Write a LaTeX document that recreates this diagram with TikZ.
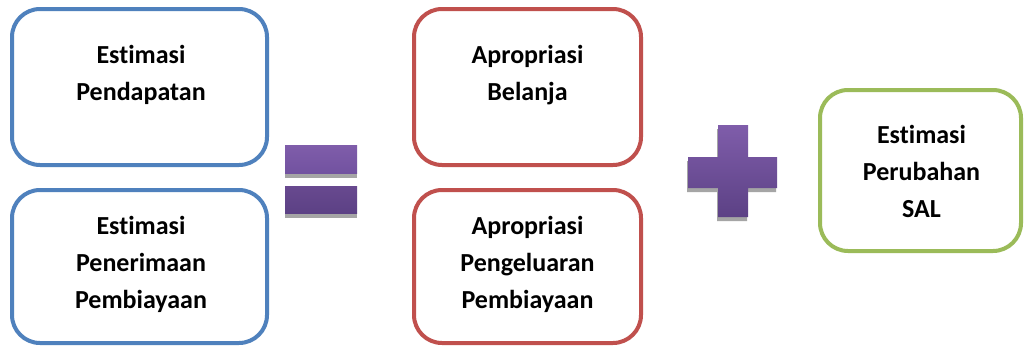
\documentclass[tikz,border=0pt]{standalone}
\usepackage{fontspec}
\setmainfont[Ligatures=NoCommon]{Carlito}
\definecolor{boxblue}{HTML}{4F81BD}
\definecolor{boxred}{HTML}{C0504D}
\definecolor{boxgreen}{HTML}{9BBB59}
\definecolor{purA}{HTML}{7F5DAA}
\definecolor{purB}{HTML}{7252A0}
\definecolor{purC}{HTML}{68498F}
\definecolor{purD}{HTML}{5C4185}
\definecolor{shadowgray}{HTML}{A5A5A5}
\begin{document}
\begin{tikzpicture}[x=1pt,y=-1pt,
  box/.style={draw, line width=4pt, rounded corners=28pt, fill=white, inner sep=0pt},
  lbl/.style={font=\fontsize{26}{30}\selectfont\bfseries, anchor=base, inner sep=0pt},
]
\useasboundingbox[fill=white] (0,0) rectangle (1025,349);
% boxes
\node[box, draw=boxblue, minimum width=255pt, minimum height=156pt] (b1) at (139.5,87) {};
\node[box, draw=boxblue, minimum width=255pt, minimum height=153pt] (b2) at (139.5,266.5) {};
\node[box, draw=boxred, minimum width=227pt, minimum height=156pt] (b3) at (527.5,87) {};
\node[box, draw=boxred, minimum width=227pt, minimum height=153pt] (b4) at (527.5,266.5) {};
\node[box, draw=boxgreen, minimum width=201pt, minimum height=161pt] (b5) at (920.5,170.5) {};
% labels
\node[lbl] (t1a) at (141,63) {Estimasi};
\node[lbl] (t1b) at (141,100) {Pendapatan};
\node[lbl] (t2a) at (141,234) {Estimasi};
\node[lbl] (t2b) at (141,271) {Penerimaan};
\node[lbl] (t2c) at (141,308) {Pembiayaan};
\node[lbl] (t3a) at (527.5,63) {Apropriasi};
\node[lbl] (t3b) at (527.5,100) {Belanja};
\node[lbl] (t4a) at (527.5,234) {Apropriasi};
\node[lbl] (t4b) at (527.5,271) {Pengeluaran};
\node[lbl] (t4c) at (527.5,308) {Pembiayaan};
\node[lbl] (t5a) at (921.5,143) {Estimasi};
\node[lbl] (t5b) at (921.5,180) {Perubahan};
\node[lbl] (t5c) at (921.5,217) {SAL};
% equals sign
\fill[shadowgray] (285,150) rectangle (357,178);
\shade[top color=purA, bottom color=purB] (285,145) rectangle (357,173);
\fill[shadowgray] (285,191) rectangle (357,218);
\shade[top color=purC, bottom color=purD] (285,186) rectangle (357,213);
% plus sign
\fill[shadowgray] (717,129) -- (747,129) -- (747,161) -- (776,161) -- (776,192) -- (747,192) -- (747,221) -- (717,221) -- (717,192) -- (687,192) -- (687,161) -- (717,161) -- cycle;
\shade[top color=purA, bottom color=purD] (718,125) -- (748,125) -- (748,157) -- (777,157) -- (777,188) -- (748,188) -- (748,217) -- (718,217) -- (718,188) -- (688,188) -- (688,157) -- (718,157) -- cycle;
\end{tikzpicture}
\end{document}
